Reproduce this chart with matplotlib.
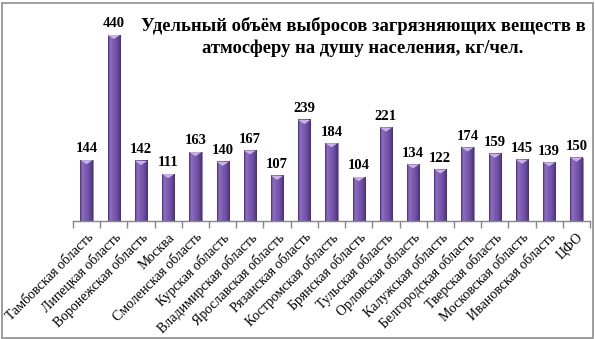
import numpy as np
import matplotlib
matplotlib.use("Agg")
import matplotlib.pyplot as plt
from matplotlib.colors import LinearSegmentedColormap
from matplotlib.patches import Rectangle, Polygon

regions = [
    "Тамбовская область", "Липецкая область", "Воронежская область", "Москва",
    "Смоленская область", "Курская область", "Владимирская область",
    "Ярославская область", "Рязанская область", "Костромская область",
    "Брянская область", "Тульская область", "Орловская область",
    "Калужская область", "Белгородская область", "Тверская область",
    "Московская область", "Ивановская область", "ЦФО",
]
emissions = [144, 440, 142, 111, 163, 140, 167, 107, 239, 184, 104, 221,
             134, 122, 174, 159, 145, 139, 150]

title = "Удельный объём выбросов загрязняющих веществ в\nатмосферу на душу населения, кг/чел."

serif = ["Liberation Serif", "DejaVu Serif"]

W, H = 595, 339
fig = plt.figure(figsize=(W / 100, H / 100), dpi=100)
fig.patch.set_facecolor("white")

# plot area in pixel coordinates
left, right, bottom, top = 73, 590, 221, 35
ax = fig.add_axes([left / W, 1 - bottom / H, (right - left) / W, (bottom - top) / H])
ax.set_facecolor("none")

n = len(regions)
x = np.arange(n)
ymax = max(emissions)

bar_w = 0.45
cmap = LinearSegmentedColormap.from_list(
    "cyl", ["#5e4290", "#8e70c2", "#7d5db2", "#7455a8", "#62449a", "#4b3178"])
grad = np.linspace(0, 1, 64).reshape(1, -1)
cap_h = ymax * 0.022

for xi, v in zip(x, emissions):
    x0, x1 = xi - bar_w / 2, xi + bar_w / 2
    ax.imshow(grad, cmap=cmap, extent=(x0, x1, 0, v), aspect="auto",
              interpolation="bilinear", zorder=2)
    ax.add_patch(Rectangle((x0, 0), bar_w, v, fill=False, edgecolor="#4a3175",
                           linewidth=0.4, zorder=3))
    ax.add_patch(Polygon([(x0, v), (x1, v), (xi, v - cap_h)],
                         closed=True, facecolor="#c7b3ea", edgecolor="none",
                         zorder=3))
    ax.text(xi, v + ymax * 0.025, f"{v}", ha="center", va="bottom",
            fontsize=10.5, fontweight="bold", family=serif, color="black",
            clip_on=False)

ax.set_xlim(-0.5, n - 0.5)
ax.set_ylim(0, ymax)

for s in ["left", "right", "top"]:
    ax.spines[s].set_visible(False)
ax.spines["bottom"].set_color("#868686")
ax.spines["bottom"].set_linewidth(1.0)
ax.set_yticks([])

ax.set_xticks(np.arange(-0.5, n, 1.0), minor=False)
ax.set_xticklabels([])
ax.tick_params(axis="x", which="major", length=5, width=1.0, color="#868686",
               direction="out")
ax.set_xticks(x, minor=True)
ax.set_xticklabels(regions, minor=True, rotation=45, ha="right", va="top",
                   rotation_mode="anchor", fontsize=10, family=serif)
ax.tick_params(axis="x", which="minor", length=0, pad=7)

fig.text(363 / W, 1 - 37 / H, title, ha="center", va="center",
         fontsize=13.4, fontweight="bold", family=serif, linespacing=1.3)

# chart border
fig.add_artist(Rectangle((1.5 / W, 1.5 / H), (W - 4) / W, (H - 4) / H,
                         transform=fig.transFigure, fill=False,
                         edgecolor="#8c8c8c", linewidth=1.2))

fig.savefig("out.png", dpi=100, facecolor="white")
